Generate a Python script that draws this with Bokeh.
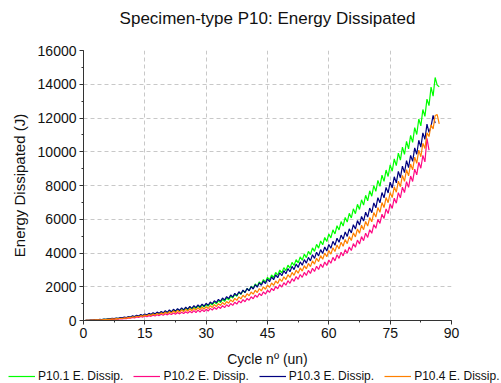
import numpy as np
from bokeh.plotting import figure
from bokeh.layouts import column
from bokeh.models import (Range1d, SingleIntervalTicker, FixedTicker, Grid,
                          Legend, LegendItem, LinearAxis)
from bokeh.embed import file_html
from bokeh.resources import INLINE

# ---------------- data ----------------
title_text = "Specimen-type P10: Energy Dissipated"
x_label = "Cycle nº (un)"
y_label = "Energy Dissipated (J)"
series_labels = ["P10.1 E. Dissip.", "P10.2 E. Dissip.",
                 "P10.3 E. Dissip.", "P10.4 E. Dissip."]
series_colors = ["#00ff00", "#ff0a84", "#000080", "#ff8000"]

# readings are taken every half cycle (peak / valley of each cycle)
half_cycle = 0.5

p10_1 = [0, 5, 13, 16, 26, 27, 40, 38, 53, 49, 66, 62, 86, 78, 106, 95, 125, 111, 145, 127,
         165, 150, 202, 181, 240, 212, 277, 242, 315, 273, 352, 302, 387, 331, 422, 360, 458, 389, 493, 418,
         528, 450, 583, 476, 624, 515, 665, 555, 706, 594, 747, 633, 788, 672, 829, 711, 870, 750, 911, 789,
         952, 845, 1028, 917, 1104, 989, 1180, 1061, 1255, 1134, 1331, 1224, 1444, 1331, 1557, 1438, 1670, 1545, 1782, 1653,
         1895, 1770, 2028, 1897, 2162, 2023, 2295, 2150, 2428, 2277, 2561, 2409, 2705, 2545, 2848, 2682, 2992, 2818, 3135, 2955,
         3279, 3101, 3443, 3257, 3607, 3413, 3771, 3569, 3935, 3725, 4099, 3901, 4304, 4096, 4509, 4291, 4714, 4486, 4919, 4681,
         5124, 4896, 5370, 5130, 5616, 5364, 5862, 5598, 6108, 5832, 6354, 6076, 6620, 6330, 6887, 6583, 7153, 6837, 7420, 7090,
         7686, 7364, 7994, 7656, 8301, 7949, 8609, 8241, 8916, 8534, 9224, 8846, 9572, 9178, 9921, 9509, 10269, 9841, 10618, 10172,
         10966, 10559, 11428, 11022, 11940, 11535, 12504, 12096, 13119, 12731, 13836, 13300, 14400, 13950, 13850]

p10_2 = [0, 4, 9, 11, 18, 18, 26, 25, 35, 32, 44, 42, 59, 55, 75, 68, 90, 80, 106, 93,
         121, 111, 150, 134, 178, 158, 207, 181, 235, 204, 264, 227, 290, 248, 317, 270, 343, 292, 370, 313,
         396, 334, 420, 354, 444, 374, 469, 393, 493, 413, 517, 435, 546, 458, 585, 472, 612, 497, 638, 523,
         665, 561, 718, 612, 772, 662, 825, 713, 878, 764, 932, 825, 1007, 898, 1083, 970, 1159, 1042, 1235, 1114,
         1311, 1196, 1407, 1288, 1503, 1380, 1600, 1471, 1696, 1563, 1793, 1662, 1905, 1770, 2018, 1877, 2131, 1984, 2244, 2091,
         2356, 2204, 2479, 2321, 2602, 2438, 2725, 2555, 2848, 2672, 2971, 2789, 3094, 2906, 3217, 3023, 3340, 3140, 3463, 3257,
         3586, 3389, 3740, 3535, 3894, 3681, 4048, 3827, 4201, 3974, 4355, 4145, 4560, 4340, 4765, 4535, 4970, 4730, 5175, 4925,
         5380, 5170, 5688, 5462, 5995, 5755, 6303, 6047, 6610, 6340, 6918, 6642, 7246, 6954, 7574, 7266, 7902, 7578, 8230, 7890,
         8558, 8242, 8968, 8632, 9378, 9022, 9788, 9400, 10800, 10100]

p10_3 = [0, 6, 15, 19, 31, 32, 46, 44, 62, 57, 77, 73, 101, 93, 125, 113, 150, 132, 174, 152,
         198, 177, 235, 208, 273, 239, 310, 269, 348, 300, 385, 330, 422, 361, 460, 392, 497, 422, 535, 453,
         583, 476, 624, 515, 665, 555, 706, 594, 747, 633, 788, 674, 833, 717, 878, 760, 923, 803, 968, 846,
         1014, 905, 1093, 982, 1173, 1058, 1253, 1134, 1333, 1210, 1413, 1294, 1510, 1385, 1606, 1477, 1702, 1569, 1799, 1660,
         1895, 1760, 2008, 1867, 2121, 1974, 2233, 2082, 2346, 2189, 2459, 2301, 2582, 2418, 2705, 2535, 2828, 2652, 2951, 2769,
         3074, 2891, 3207, 3018, 3340, 3145, 3474, 3271, 3607, 3398, 3740, 3535, 3894, 3681, 4048, 3827, 4201, 3974, 4355, 4120,
         4509, 4281, 4693, 4457, 4878, 4632, 5062, 4808, 5247, 4983, 5431, 5189, 5677, 5423, 5923, 5657, 6169, 5891, 6415, 6125,
         6661, 6389, 6969, 6681, 7276, 6974, 7584, 7266, 7891, 7559, 8199, 7856, 8517, 8158, 8834, 8461, 9152, 8763, 9470, 9065,
         9788, 9427, 10228, 9852, 10679, 10276, 11120, 10730, 11633, 11150, 11500, 12150, 11700]

p10_4 = [0, 5, 11, 14, 22, 23, 33, 32, 44, 41, 55, 53, 75, 69, 95, 86, 114, 102, 134, 118,
         154, 140, 187, 167, 220, 194, 253, 221, 286, 248, 319, 275, 352, 302, 385, 329, 418, 356, 451, 383,
         484, 410, 519, 439, 567, 457, 599, 489, 632, 520, 665, 550, 696, 579, 727, 608, 757, 638, 788, 667,
         819, 711, 880, 770, 942, 828, 1003, 887, 1065, 945, 1126, 1019, 1219, 1106, 1311, 1194, 1403, 1282, 1495, 1370,
         1588, 1462, 1690, 1560, 1793, 1657, 1895, 1755, 1998, 1852, 2100, 1960, 2223, 2077, 2346, 2194, 2469, 2311, 2592, 2428,
         2715, 2550, 2848, 2677, 2982, 2803, 3115, 2930, 3248, 3057, 3381, 3194, 3535, 3340, 3689, 3486, 3843, 3632, 3996, 3779,
         4150, 3930, 4314, 4086, 4478, 4242, 4642, 4398, 4806, 4554, 4970, 4740, 5196, 4954, 5421, 5169, 5647, 5383, 5872, 5598,
         6098, 5847, 6395, 6130, 6692, 6413, 6989, 6696, 7287, 6978, 7584, 7281, 7922, 7603, 8260, 7925, 8599, 8246, 8937, 8568,
         9275, 8925, 9685, 9315, 10095, 9705, 10505, 10195, 11120, 10900, 11600, 11350, 12150, 12200, 11650]

x_tick_step = 15
y_tick_step = 2000
x_grid_ticks = [15, 30, 45, 60, 75]
y_grid_ticks = [2000, 4000, 6000, 8000, 10000, 12000, 14000]

# ---------------- main figure ----------------
FONT = "Liberation Sans"
p = figure(width=501, height=369, x_range=Range1d(0, 90), y_range=Range1d(0, 16000),
           output_backend="svg", toolbar_location=None, title=title_text,
           min_border_left=83, min_border_right=50, min_border_top=50, min_border_bottom=47)
p.outline_line_color = None
p.background_fill_color = "white"
p.border_fill_color = "white"

xaxis = p.below[0]
yaxis = p.left[0]
xaxis.ticker = SingleIntervalTicker(interval=x_tick_step, num_minor_ticks=2)
yaxis.ticker = SingleIntervalTicker(interval=y_tick_step, num_minor_ticks=2)

# invisible spacer between the plot area and the title (tick lines and labels hidden)
spacer = LinearAxis(ticker=SingleIntervalTicker(interval=x_tick_step, num_minor_ticks=2),
                    axis_line_color=None,
                    major_tick_line_color=None, minor_tick_line_color=None,
                    major_tick_in=0, major_tick_out=23, minor_tick_in=0, minor_tick_out=0,
                    major_label_standoff=0, major_label_text_alpha=0)
p.add_layout(spacer, "above")

p.title.text_font = FONT
p.title.text_font_size = "17px"
p.title.text_font_style = "normal"
p.title.text_color = "#111111"
p.title.align = "center"
p.title.standoff = 0

p.xgrid.visible = False
p.ygrid.visible = False
p.add_layout(Grid(dimension=0, ticker=FixedTicker(ticks=x_grid_ticks),
                  grid_line_color="#c8c8c8", grid_line_dash="4 3", grid_line_width=1))
p.add_layout(Grid(dimension=1, ticker=FixedTicker(ticks=y_grid_ticks),
                  grid_line_color="#c8c8c8", grid_line_dash="4 3", grid_line_width=1))

for ax in (xaxis, yaxis):
    ax.axis_line_color = "#333333"
    ax.major_tick_line_color = "#333333"
    ax.minor_tick_line_color = "#333333"
    ax.major_tick_in = 0
    ax.major_tick_out = 4
    ax.minor_tick_in = 0
    ax.minor_tick_out = 2
    ax.major_label_text_font = FONT
    ax.major_label_text_font_size = "14px"
    ax.major_label_text_color = "#111111"
    ax.major_label_standoff = 3
    ax.axis_label_text_font = FONT
    ax.axis_label_text_font_style = "normal"
    ax.axis_label_text_color = "#111111"
xaxis.axis_label = x_label
yaxis.axis_label = y_label
xaxis.axis_label_text_font_size = "14px"
yaxis.axis_label_text_font_size = "15px"
xaxis.axis_label_standoff = 10
yaxis.axis_label_standoff = 7

for ys, col in zip([p10_1, p10_2, p10_3, p10_4], series_colors):
    xs = np.arange(len(ys)) * half_cycle
    p.line(xs, ys, line_color=col, line_width=1.2)

# ---------------- legend strip under the chart ----------------
q = figure(frame_width=501, frame_height=14, x_range=Range1d(0, 1), y_range=Range1d(0, 1),
           output_backend="svg", toolbar_location=None,
           x_axis_location=None, y_axis_location=None, min_border=0,
           min_border_left=0, min_border_right=0, min_border_top=0, min_border_bottom=0)
q.outline_line_color = None
q.grid.visible = False
q.border_fill_color = "white"
q.background_fill_color = "white"
# key-only renderers: a single point draws no visible line
keys = [q.line([-5], [-5], line_color=col, line_width=1.2) for col in series_colors]
legend = Legend(items=[LegendItem(label=lab, renderers=[r])
                       for lab, r in zip(series_labels, keys)],
                location=(8, 0), orientation="horizontal",
                glyph_width=27, glyph_height=14, label_height=14,
                label_standoff=3, spacing=10, padding=0, margin=0,
                label_text_font=FONT, label_text_font_size="12px",
                label_text_color="#111111",
                background_fill_alpha=0, border_line_color=None)
q.add_layout(legend)

layout = column(p, q, spacing=0)
open("out.html", "w").write(file_html(layout, INLINE))
